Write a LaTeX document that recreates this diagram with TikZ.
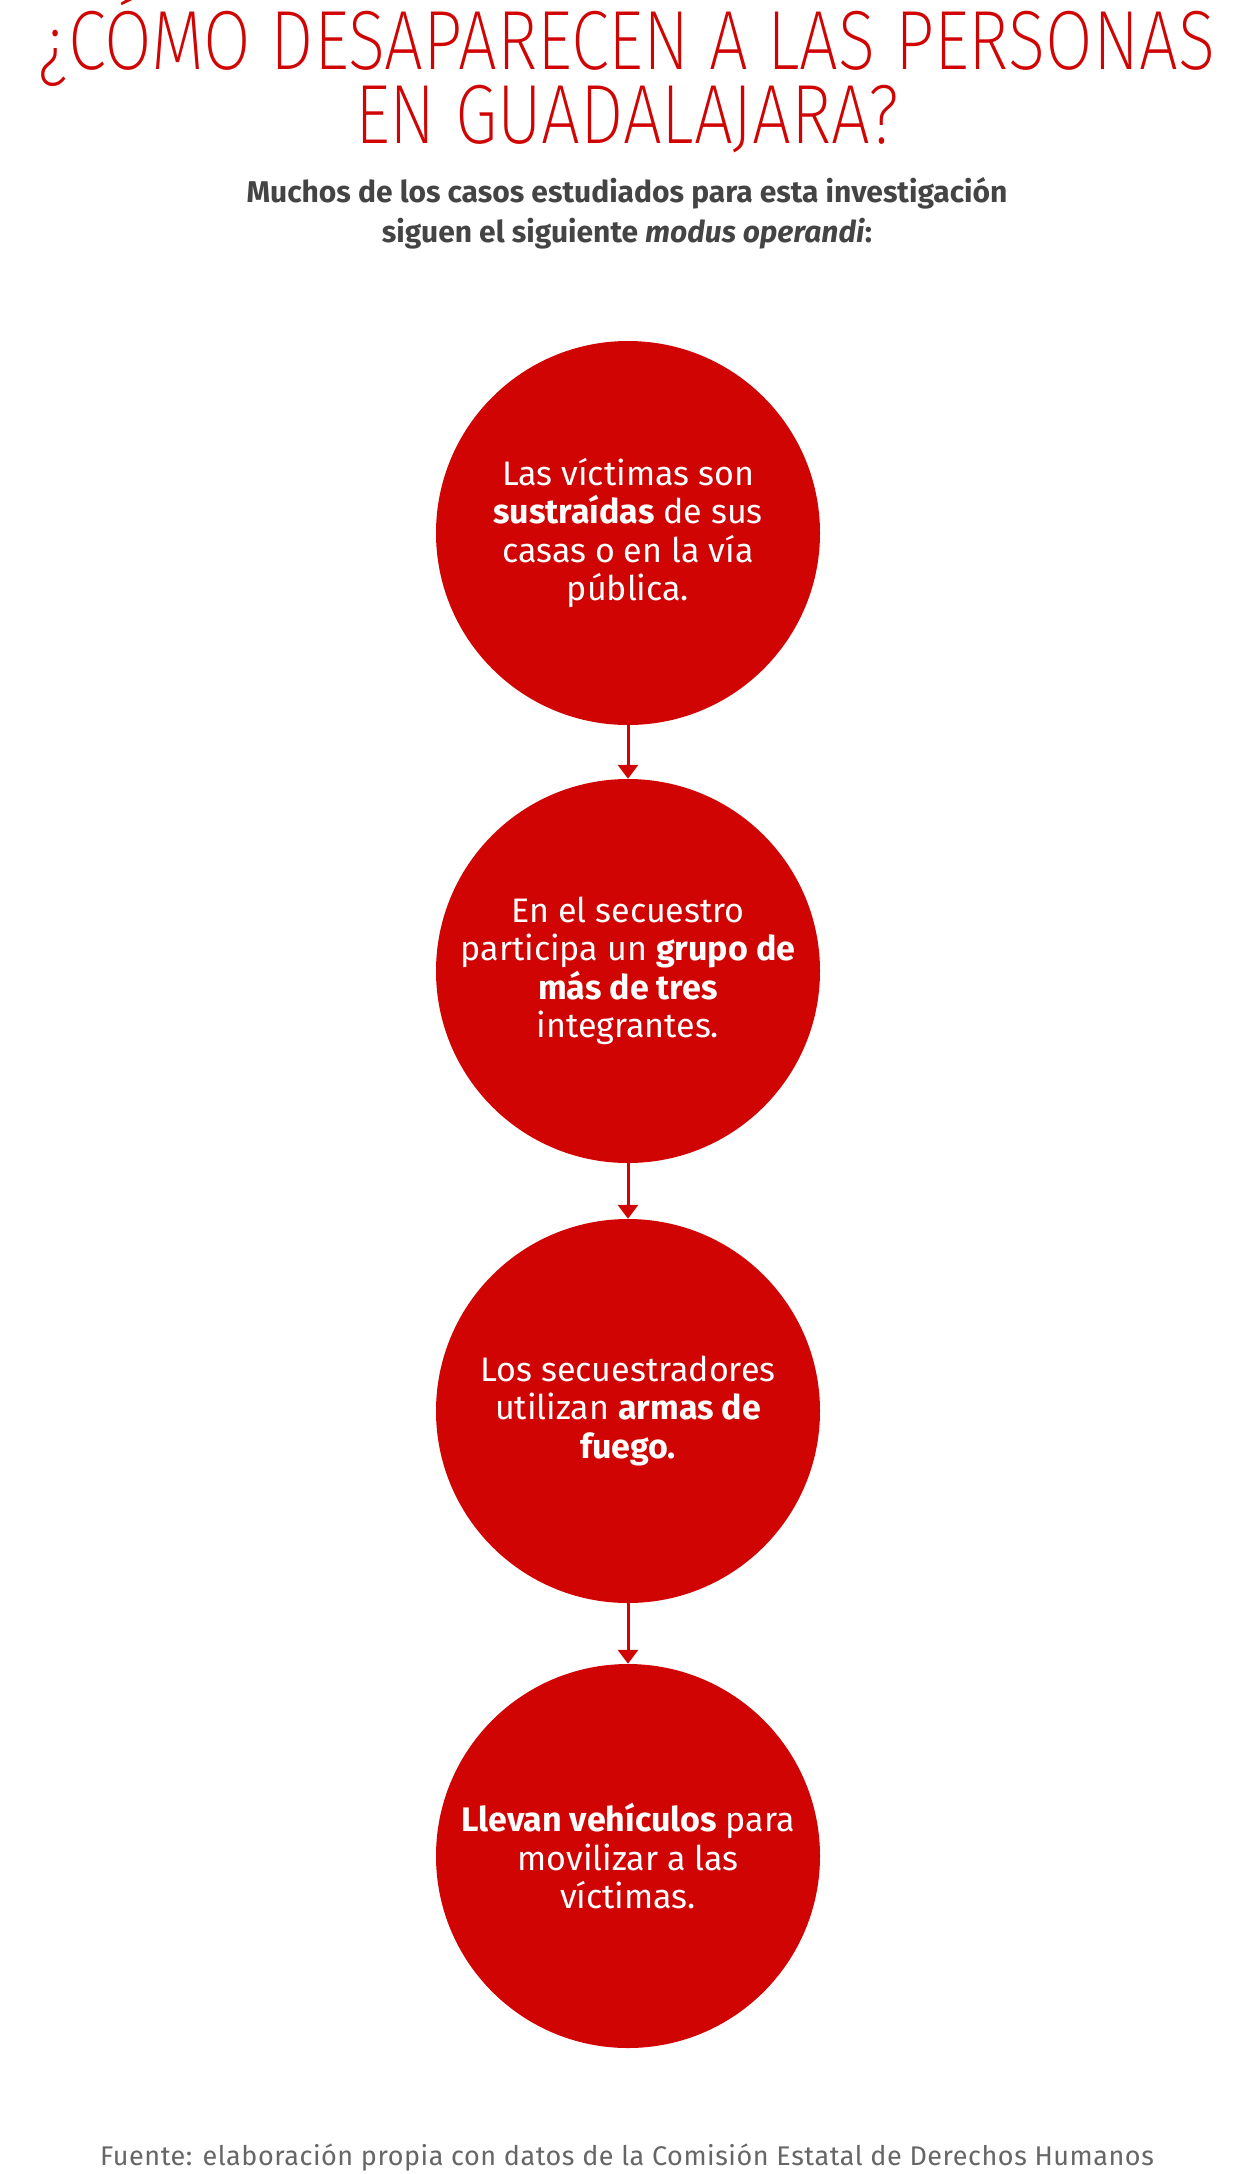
\documentclass[tikz,border=0pt]{standalone}
\usepackage{fontspec}
\setmainfont{Fira Sans}
\IfFontExistsTF{Fira Sans ExtraLight}{\newfontfamily\titlefont{Fira Sans ExtraLight}[FakeStretch=0.82]}{\IfFontExistsTF{Fira Sans Light}{\newfontfamily\titlefont{Fira Sans Light}[FakeStretch=0.82]}{\newfontfamily\titlefont{Fira Sans}[FakeStretch=0.82]}}
\newfontfamily\footfont{Fira Sans}[LetterSpace=2]
\usetikzlibrary{arrows.meta}
\definecolor{myred}{HTML}{D10404}
\definecolor{subgray}{HTML}{444444}
\definecolor{footgray}{HTML}{666666}
\begin{document}
\begin{tikzpicture}[x=1pt,y=-1pt,
  bubble/.style={circle, fill=myred, minimum size=384pt, inner sep=0pt, text=white, align=center, font=\fontsize{34}{38.5}\selectfont},
  link/.style={draw=myred, line width=3pt, -{Triangle[width=20pt,length=14pt]}},
  titletext/.style={anchor=base, inner sep=0pt, text=myred, font=\titlefont\fontsize{84}{84}\selectfont},
  subtext/.style={anchor=base, inner sep=0pt, text=subgray, font=\bfseries\fontsize{30}{36}\selectfont},
  foottext/.style={anchor=base, inner sep=0pt, text=footgray, font=\footfont\fontsize{27}{30}\selectfont}]
\useasboundingbox (0,0) rectangle (1254,2174);
\fill[white] (0,0) rectangle (1254,2174);
\node[titletext] (t1) at (627,69) {¿CÓMO DESAPARECEN A LAS PERSONAS};
\node[titletext] (t2) at (627,143) {EN GUADALAJARA?};
\node[subtext] (s1) at (627,202) {Muchos de los casos estudiados para esta investigación};
\node[subtext] (s2) at (627,242) {siguen el siguiente \textit{modus operandi}:};
\node[bubble] (c1) at (628,533) {Las víctimas son\\\textbf{sustraídas} de sus\\casas o en la vía\\pública.};
\node[bubble] (c2) at (628,971) {En el secuestro\\participa un \textbf{grupo de}\\\textbf{más de tres}\\integrantes.};
\node[bubble] (c3) at (628,1411) {Los secuestradores\\utilizan \textbf{armas de}\\\textbf{fuego.}};
\node[bubble] (c4) at (628,1856) {\textbf{Llevan vehículos} para\\movilizar a las\\víctimas.};
\draw[link] (c1.south) -- (c2.north);
\draw[link] (c2.south) -- (c3.north);
\draw[link] (c3.south) -- (c4.north);
\node[foottext] (f) at (627,2165) {Fuente: elaboración propia con datos de la Comisión Estatal de Derechos Humanos};
\end{tikzpicture}
\end{document}
